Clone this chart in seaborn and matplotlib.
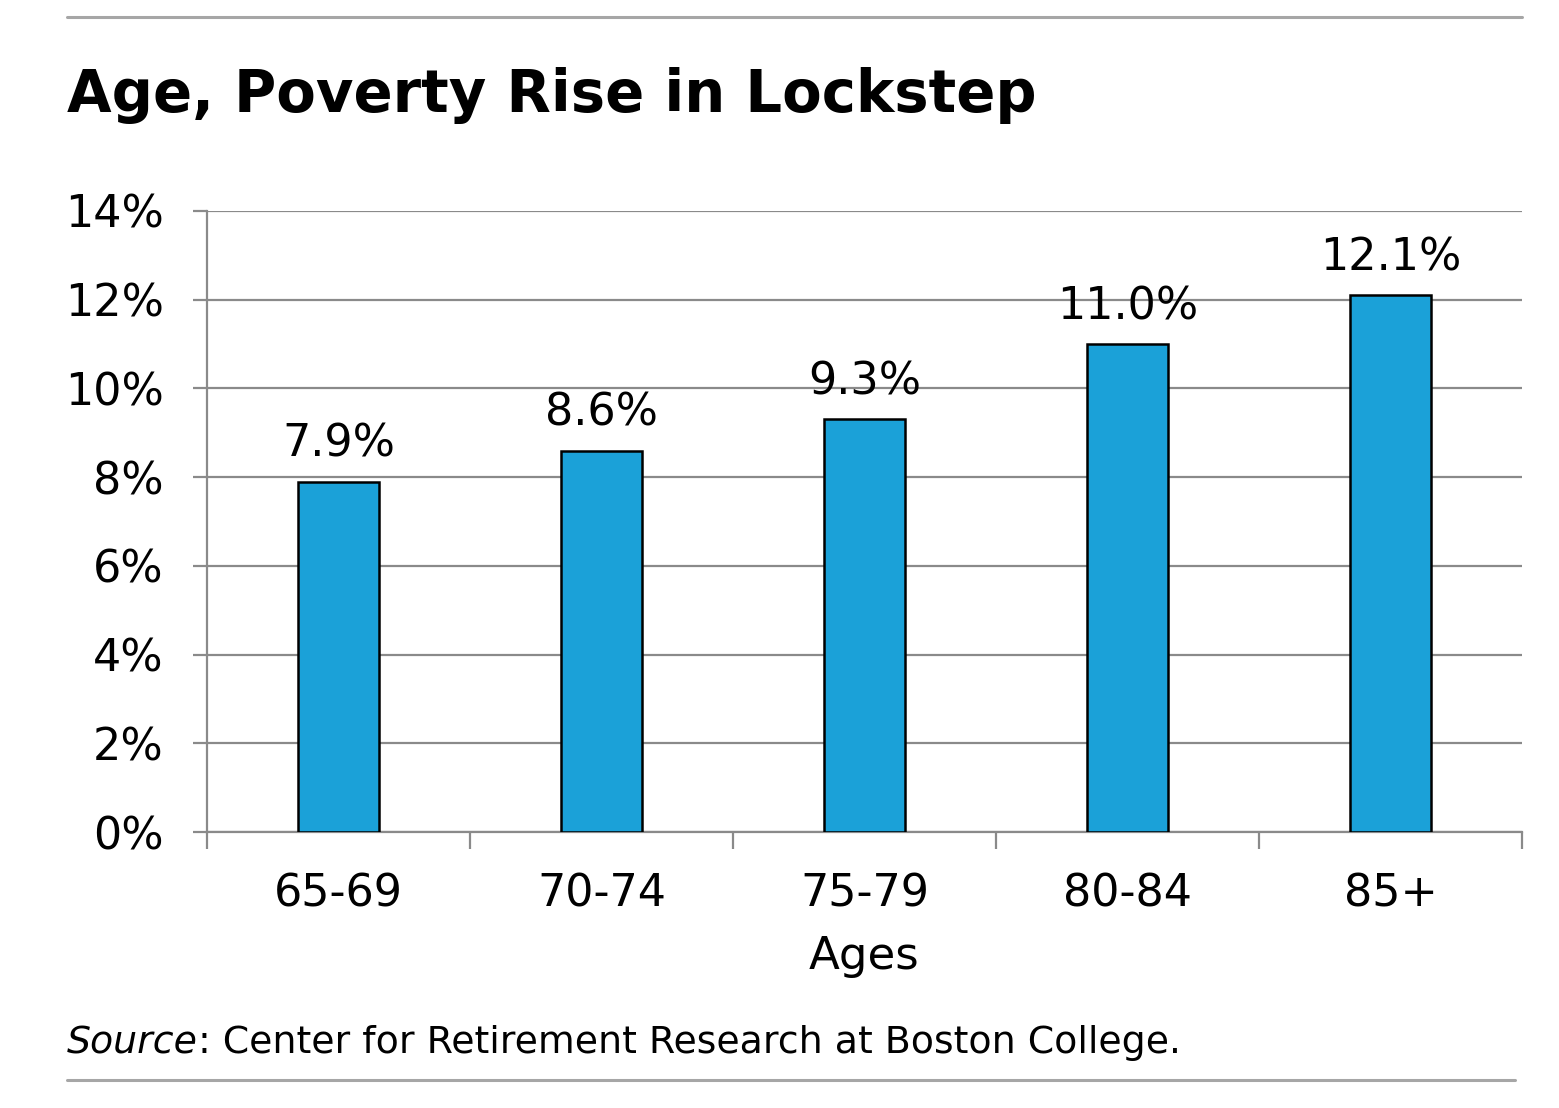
import matplotlib
matplotlib.use("Agg")
import matplotlib.pyplot as plt
from matplotlib.lines import Line2D
from matplotlib.ticker import PercentFormatter
import seaborn as sns
import pandas as pd
import numpy as np

# Data
ages = ["65-69", "70-74", "75-79", "80-84", "85+"]
poverty_rate = [7.9, 8.6, 9.3, 11.0, 12.1]
yticks = [0, 2, 4, 6, 8, 10, 12, 14]

W, H = 1559, 1108
sns.set_theme(style="white")
plt.rcParams['font.family'] = ['DejaVu Sans']
plt.rcParams['text.color'] = 'black'
plt.rcParams['axes.labelcolor'] = 'black'
plt.rcParams['xtick.labelcolor'] = 'black'
plt.rcParams['ytick.labelcolor'] = 'black'

fig = plt.figure(figsize=(W / 100, H / 100), dpi=100)
ax = fig.add_axes([207 / W, 1 - 832 / H, (1522 - 207) / W, (832 - 211) / H])

df = pd.DataFrame({"Ages": ages, "Rate": poverty_rate})
sns.barplot(data=df, x="Ages", y="Rate", color="#1ba1d8", saturation=1,
            edgecolor="black", linewidth=1.8, width=0.31, ax=ax, zorder=3)

# value labels
for i, v in enumerate(poverty_rate):
    ax.text(i, v + 0.36, f"{v:.1f}%", ha="center", va="bottom", fontsize=32, color="black")

ax.set_xlim(-0.5, len(ages) - 0.5)
ax.set_ylim(0, 14)
ax.set_yticks(yticks)
ax.yaxis.set_major_formatter(PercentFormatter(decimals=0))
ax.yaxis.grid(True, color="#8a8a8a", linewidth=1.6, zorder=0)
ax.set_axisbelow(True)

grey = "#8a8a8a"
for s in ["top", "right"]:
    ax.spines[s].set_visible(False)
for s in ["left", "bottom"]:
    ax.spines[s].set_color(grey)
    ax.spines[s].set_linewidth(1.6)

ax.tick_params(axis="y", which="major", direction="out", length=10, width=1.6,
               color=grey, labelsize=32, pad=21, left=True)
ax.tick_params(axis="x", which="major", length=0, labelsize=32, pad=29)
ax.set_xticks(np.arange(-0.5, len(ages), 1), minor=True)
ax.tick_params(axis="x", which="minor", direction="out", length=12, width=1.6,
               color=grey, bottom=True)
ax.set_xlabel("Ages", fontsize=32.5, labelpad=14)
ax.set_ylabel("")

# title and source
fig.text(67 / W, 1 - 96 / H, "Age, Poverty Rise in Lockstep", fontsize=41.5,
         fontweight="bold", ha="left", va="center")
t = fig.text(67 / W, 1 - 1043 / H, "Source", fontsize=27.3, style="italic",
             ha="left", va="center")
fig.canvas.draw()
bb = t.get_window_extent(fig.canvas.get_renderer())
fig.text(bb.x1 / W, 1 - 1043 / H, ": Center for Retirement Research at Boston College.",
         fontsize=27.3, ha="left", va="center")

# horizontal rules
rule = "#a6a6a6"
fig.add_artist(Line2D([67 / W, 1522 / W], [1 - 17 / H] * 2, color=rule, lw=2.2))
fig.add_artist(Line2D([67 / W, 1515 / W], [1 - 1080 / H] * 2, color=rule, lw=2.2))

fig.savefig("out.png", dpi=100, facecolor="white")
